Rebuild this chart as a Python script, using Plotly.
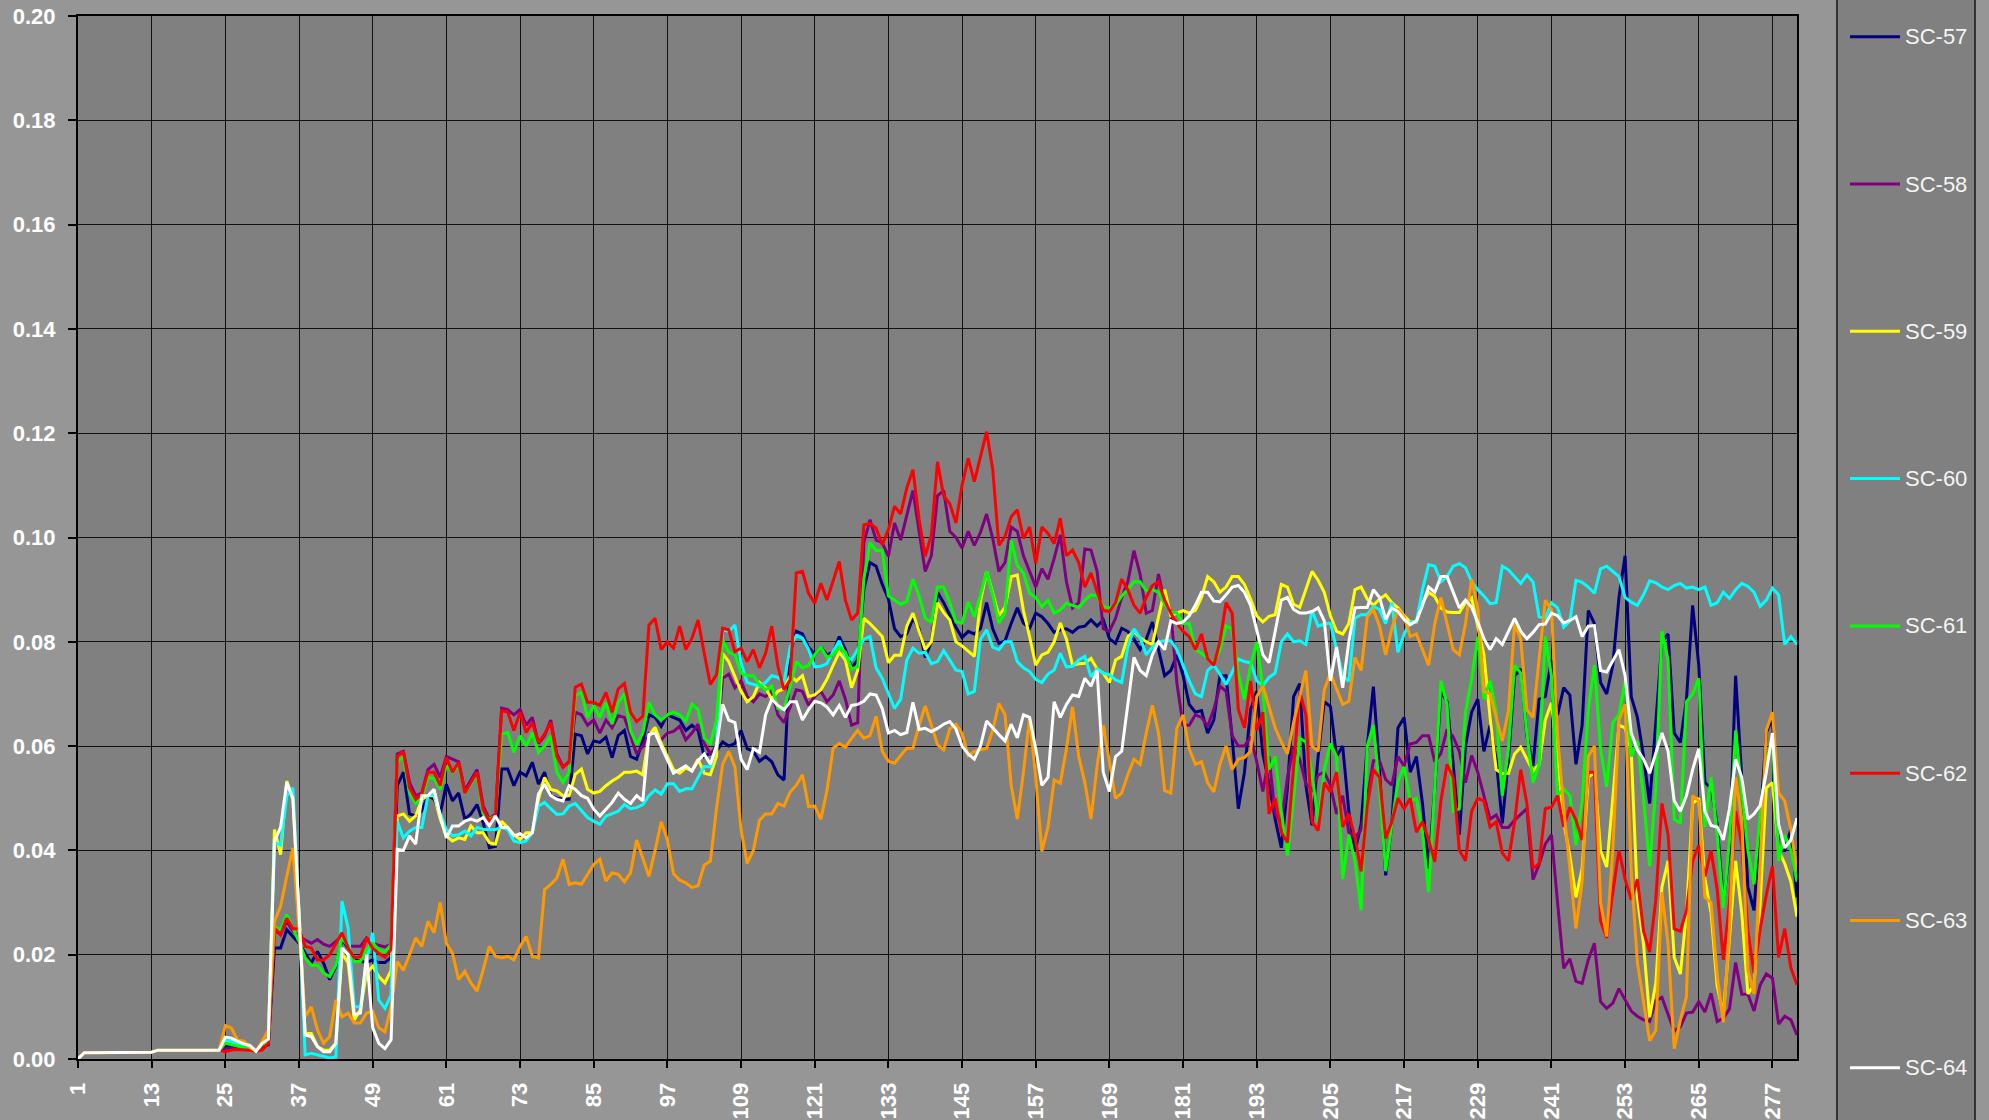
import plotly.graph_objects as go

# Sample index along the x axis (1 .. 281)
samples = list(range(1, 282))
tick_values = [1, 13, 25, 37, 49, 61, 73, 85, 97, 109, 121, 133, 145, 157, 169,
               181, 193, 205, 217, 229, 241, 253, 265, 277]
tick_labels = [str(v) for v in tick_values]
y_ticks = [0.00, 0.02, 0.04, 0.06, 0.08, 0.10, 0.12, 0.14, 0.16, 0.18, 0.20]

series_names = ["SC-57", "SC-58", "SC-59", "SC-60", "SC-61", "SC-62", "SC-63", "SC-64"]
series_colors = ["#000080", "#800080", "#FFFF00", "#00FFFF", "#00FF00", "#FF0000", "#FF9900", "#FFFFFF"]

sc57 = [
    0.0000, 0.0012, 0.0012, 0.0012, 0.0012, 0.0012, 0.0012, 0.0012, 0.0013, 0.0013, 0.0013, 0.0013, 0.0013, 0.0017, 0.0017, 0.0017, 0.0017, 0.0016, 0.0016, 0.0016, 0.0016, 0.0016, 0.0016, 0.0017,
    0.0024, 0.0024, 0.0022, 0.0021, 0.0019, 0.0015, 0.0024, 0.0027,
    0.0213, 0.0213, 0.0248, 0.0235, 0.0222, 0.0203, 0.0184, 0.0206, 0.0184, 0.0152, 0.0178, 0.0229, 0.0213, 0.0190, 0.0187, 0.0185,
    0.0190, 0.0185, 0.0185, 0.0195,
    0.0524, 0.0550, 0.0470, 0.0466, 0.0476, 0.0505, 0.0498, 0.0470, 0.0527, 0.0495, 0.0510, 0.0460, 0.0470, 0.0488, 0.0453, 0.0405, 0.0408, 0.0556, 0.0556, 0.0524, 0.0550, 0.0543, 0.0569, 0.0527, 0.0550, 0.0505, 0.0500, 0.0498, 0.0498, 0.0623, 0.0620, 0.0585, 0.0610, 0.0607, 0.0617, 0.0578, 0.0620, 0.0630, 0.0580,
    0.0575, 0.0610, 0.0660, 0.0655, 0.0638, 0.0660, 0.0655, 0.0650, 0.0630, 0.0640, 0.0630, 0.0580, 0.0587, 0.0590, 0.0608, 0.0600, 0.0605, 0.0630, 0.0595, 0.0590, 0.0571, 0.0580, 0.0570, 0.0545, 0.0535, 0.0780, 0.0820, 0.0815, 0.0790, 0.0775, 0.0790, 0.0775, 0.0780, 0.0810, 0.0785, 0.0750, 0.0765, 0.0900, 0.0952, 0.0945,
    0.0910, 0.0882, 0.0825, 0.0810, 0.0815, 0.0845, 0.0825, 0.0770, 0.0800, 0.0895, 0.0875, 0.0850, 0.0828, 0.0808, 0.0820, 0.0815, 0.0825, 0.0875, 0.0825, 0.0797, 0.0802, 0.0835, 0.0865, 0.0836, 0.0826, 0.0855, 0.0848, 0.0835, 0.0818, 0.0823, 0.0825, 0.0818, 0.0828, 0.0830, 0.0842, 0.0830, 0.0842, 0.0806, 0.0797, 0.0826, 0.0820,
    0.0805, 0.0785, 0.0805, 0.0838, 0.0785, 0.0735, 0.0745, 0.0775, 0.0735, 0.0680, 0.0665, 0.0668, 0.0625, 0.0650, 0.0735, 0.0735, 0.0615, 0.0480, 0.0550, 0.0670, 0.0705, 0.0585, 0.0528, 0.0460, 0.0405, 0.0520, 0.0695, 0.0720, 0.0525, 0.0448, 0.0580, 0.0685, 0.0676, 0.0580, 0.0600, 0.0475, 0.0398, 0.0450,
    0.0600, 0.0714, 0.0555, 0.0352, 0.0450, 0.0635, 0.0655, 0.0550, 0.0580, 0.0490, 0.0365, 0.0520, 0.0705, 0.0685, 0.0565, 0.0430, 0.0600, 0.0665, 0.0690, 0.0590, 0.0640, 0.0575, 0.0452, 0.0575, 0.0735, 0.0748, 0.0620, 0.0562, 0.0690, 0.0695, 0.0765, 0.0660, 0.0712, 0.0698, 0.0565, 0.0640, 0.0860,
    0.0835, 0.0722, 0.0700, 0.0755, 0.0885, 0.0965, 0.0695, 0.0655, 0.0580, 0.0490, 0.0640, 0.0800, 0.0815, 0.0625, 0.0607, 0.0690, 0.0870, 0.0755, 0.0530, 0.0520, 0.0450, 0.0300, 0.0400, 0.0735, 0.0540, 0.0330, 0.0285, 0.0450, 0.0625, 0.0655, 0.0400, 0.0400, 0.0440, 0.0310,
]

sc58 = [
    0.0000, 0.0012, 0.0012, 0.0012, 0.0012, 0.0012, 0.0012, 0.0012, 0.0013, 0.0013, 0.0013, 0.0013, 0.0013, 0.0017, 0.0017, 0.0017, 0.0017, 0.0016, 0.0016, 0.0016, 0.0016, 0.0016, 0.0016, 0.0017,
    0.0020, 0.0021, 0.0020, 0.0019, 0.0018, 0.0015, 0.0022, 0.0028,
    0.0245, 0.0240, 0.0264, 0.0245, 0.0235, 0.0229, 0.0222, 0.0229, 0.0220, 0.0216, 0.0226, 0.0235, 0.0216, 0.0216, 0.0216, 0.0232,
    0.0222, 0.0218, 0.0215, 0.0220,
    0.0585, 0.0590, 0.0530, 0.0505, 0.0510, 0.0555, 0.0565, 0.0540, 0.0580, 0.0575, 0.0570, 0.0515, 0.0535, 0.0555, 0.0485, 0.0460, 0.0470, 0.0673, 0.0670, 0.0660, 0.0670, 0.0640, 0.0655, 0.0605, 0.0620, 0.0650, 0.0585, 0.0560, 0.0570, 0.0665, 0.0660, 0.0640, 0.0650, 0.0625, 0.0650, 0.0635, 0.0658, 0.0655, 0.0620,
    0.0585, 0.0600, 0.0625, 0.0623, 0.0612, 0.0625, 0.0628, 0.0638, 0.0612, 0.0625, 0.0642, 0.0605, 0.0585, 0.0600, 0.0730, 0.0738, 0.0712, 0.0725, 0.0695, 0.0685, 0.0700, 0.0695, 0.0705, 0.0660, 0.0645, 0.0675, 0.0708, 0.0705, 0.0678, 0.0695, 0.0705, 0.0685, 0.0698, 0.0725, 0.0690, 0.0640, 0.0645, 0.0990, 0.1034, 0.0995,
    0.0990, 0.0964, 0.1028, 0.0995, 0.1045, 0.1090, 0.1012, 0.0935, 0.0965, 0.1080, 0.1090, 0.1012, 0.1000, 0.0980, 0.1012, 0.0985, 0.1010, 0.1045, 0.0998, 0.0935, 0.0952, 0.1020, 0.1012, 0.0965, 0.0935, 0.0905, 0.0940, 0.0920, 0.0960, 0.1005, 0.0915, 0.0865, 0.0875, 0.0978, 0.0976, 0.0935, 0.0825, 0.0820, 0.0845, 0.0885, 0.0915,
    0.0975, 0.0930, 0.0855, 0.0860, 0.0930, 0.0875, 0.0858, 0.0720, 0.0640, 0.0640, 0.0660, 0.0655, 0.0638, 0.0670, 0.0715, 0.0705, 0.0620, 0.0600, 0.0600, 0.0618, 0.0570, 0.0513, 0.0580, 0.0470, 0.0452, 0.0540, 0.0598, 0.0575, 0.0528, 0.0516, 0.0545, 0.0550, 0.0525, 0.0470, 0.0505, 0.0435, 0.0424, 0.0440,
    0.0500, 0.0572, 0.0572, 0.0536, 0.0525, 0.0580, 0.0562, 0.0604, 0.0607, 0.0620, 0.0620, 0.0570, 0.0586, 0.0632, 0.0618, 0.0590, 0.0530, 0.0582, 0.0550, 0.0505, 0.0460, 0.0468, 0.0444, 0.0444, 0.0458, 0.0469, 0.0480, 0.0344, 0.0373, 0.0412, 0.0430, 0.0300, 0.0174, 0.0192, 0.0149, 0.0145, 0.0190,
    0.0222, 0.0110, 0.0097, 0.0107, 0.0135, 0.0112, 0.0092, 0.0082, 0.0075, 0.0072, 0.0112, 0.0118, 0.0085, 0.0053, 0.0062, 0.0088, 0.0090, 0.0110, 0.0090, 0.0126, 0.0072, 0.0078, 0.0096, 0.0185, 0.0124, 0.0124, 0.0092, 0.0142, 0.0163, 0.0155, 0.0067, 0.0082, 0.0075, 0.0046,
]

sc59 = [
    0.0000, 0.0012, 0.0012, 0.0012, 0.0012, 0.0012, 0.0012, 0.0012, 0.0013, 0.0013, 0.0013, 0.0013, 0.0013, 0.0017, 0.0017, 0.0017, 0.0017, 0.0016, 0.0016, 0.0016, 0.0016, 0.0016, 0.0016, 0.0017,
    0.0036, 0.0033, 0.0030, 0.0026, 0.0020, 0.0015, 0.0030, 0.0036,
    0.0440, 0.0392, 0.0533, 0.0498, 0.0280, 0.0049, 0.0049, 0.0024, 0.0017, 0.0017, 0.0030, 0.0203, 0.0184, 0.0075, 0.0095, 0.0165,
    0.0178, 0.0158, 0.0146, 0.0170,
    0.0466, 0.0470, 0.0456, 0.0466, 0.0498, 0.0505, 0.0505, 0.0460, 0.0428, 0.0418, 0.0424, 0.0421, 0.0447, 0.0434, 0.0434, 0.0415, 0.0412, 0.0456, 0.0444, 0.0430, 0.0421, 0.0434, 0.0434, 0.0498, 0.0540, 0.0517, 0.0514, 0.0505, 0.0505, 0.0546, 0.0556, 0.0517, 0.0510, 0.0513, 0.0524, 0.0533, 0.0540, 0.0550, 0.0550,
    0.0552, 0.0545, 0.0620, 0.0636, 0.0605, 0.0580, 0.0555, 0.0548, 0.0558, 0.0553, 0.0575, 0.0548, 0.0545, 0.0580, 0.0778, 0.0762, 0.0735, 0.0705, 0.0685, 0.0695, 0.0722, 0.0712, 0.0690, 0.0705, 0.0710, 0.0735, 0.0725, 0.0735, 0.0695, 0.0698, 0.0708, 0.0728, 0.0755, 0.0780, 0.0765, 0.0712, 0.0745, 0.0845, 0.0835, 0.0823,
    0.0810, 0.0760, 0.0774, 0.0774, 0.0830, 0.0855, 0.0818, 0.0785, 0.0800, 0.0875, 0.0856, 0.0842, 0.0800, 0.0792, 0.0782, 0.0772, 0.0878, 0.0935, 0.0893, 0.0850, 0.0866, 0.0925, 0.0928, 0.0860, 0.0810, 0.0755, 0.0775, 0.0780, 0.0800, 0.0836, 0.0805, 0.0755, 0.0758, 0.0759, 0.0768, 0.0748, 0.0740, 0.0722, 0.0765, 0.0772, 0.0810,
    0.0820, 0.0808, 0.0800, 0.0795, 0.0850, 0.0900, 0.0850, 0.0855, 0.0860, 0.0855, 0.0860, 0.0885, 0.0925, 0.0915, 0.0895, 0.0905, 0.0925, 0.0925, 0.0910, 0.0882, 0.0850, 0.0838, 0.0849, 0.0852, 0.0910, 0.0905, 0.0872, 0.0866, 0.0900, 0.0935, 0.0918, 0.0895, 0.0850, 0.0820, 0.0815, 0.0835, 0.0900, 0.0905,
    0.0882, 0.0870, 0.0882, 0.0890, 0.0875, 0.0865, 0.0850, 0.0838, 0.0838, 0.0875, 0.0895, 0.0887, 0.0865, 0.0857, 0.0856, 0.0856, 0.0875, 0.0884, 0.0830, 0.0775, 0.0655, 0.0555, 0.0547, 0.0548, 0.0585, 0.0598, 0.0575, 0.0552, 0.0565, 0.0650, 0.0683, 0.0580, 0.0455, 0.0390, 0.0310, 0.0365, 0.0540,
    0.0550, 0.0400, 0.0368, 0.0500, 0.0640, 0.0635, 0.0590, 0.0310, 0.0220, 0.0080, 0.0145, 0.0330, 0.0380, 0.0195, 0.0163, 0.0280, 0.0490, 0.0500, 0.0345, 0.0280, 0.0140, 0.0085, 0.0230, 0.0380, 0.0280, 0.0125, 0.0142, 0.0300, 0.0520, 0.0530, 0.0400, 0.0375, 0.0340, 0.0273,
]

sc60 = [
    0.0000, 0.0012, 0.0012, 0.0012, 0.0012, 0.0012, 0.0012, 0.0012, 0.0013, 0.0013, 0.0013, 0.0013, 0.0013, 0.0017, 0.0017, 0.0017, 0.0017, 0.0016, 0.0016, 0.0016, 0.0016, 0.0016, 0.0016, 0.0017,
    0.0037, 0.0034, 0.0031, 0.0027, 0.0020, 0.0015, 0.0031, 0.0037,
    0.0415, 0.0410, 0.0504, 0.0520, 0.0280, 0.0008, 0.0011, 0.0008, 0.0004, 0.0002, 0.0004, 0.0303, 0.0251, 0.0100, 0.0100, 0.0190,
    0.0242, 0.0113, 0.0097, 0.0123,
    0.0456, 0.0424, 0.0437, 0.0444, 0.0444, 0.0505, 0.0508, 0.0470, 0.0440, 0.0428, 0.0430, 0.0437, 0.0428, 0.0444, 0.0440, 0.0440, 0.0440, 0.0444, 0.0440, 0.0418, 0.0415, 0.0418, 0.0434, 0.0485, 0.0492, 0.0480, 0.0469, 0.0470, 0.0485, 0.0490, 0.0476, 0.0463, 0.0456, 0.0450, 0.0466, 0.0470, 0.0475, 0.0488, 0.0480,
    0.0482, 0.0488, 0.0505, 0.0516, 0.0508, 0.0528, 0.0528, 0.0513, 0.0518, 0.0518, 0.0540, 0.0561, 0.0560, 0.0600, 0.0823, 0.0820, 0.0832, 0.0760, 0.0722, 0.0718, 0.0715, 0.0722, 0.0735, 0.0732, 0.0722, 0.0790, 0.0812, 0.0807, 0.0785, 0.0752, 0.0753, 0.0758, 0.0782, 0.0802, 0.0772, 0.0766, 0.0785, 0.0805, 0.0810, 0.0750,
    0.0730, 0.0700, 0.0672, 0.0690, 0.0765, 0.0788, 0.0778, 0.0780, 0.0758, 0.0762, 0.0783, 0.0765, 0.0746, 0.0743, 0.0700, 0.0705, 0.0805, 0.0823, 0.0790, 0.0785, 0.0800, 0.0800, 0.0762, 0.0750, 0.0743, 0.0728, 0.0722, 0.0738, 0.0746, 0.0778, 0.0752, 0.0753, 0.0765, 0.0772, 0.0733, 0.0748, 0.0740, 0.0737, 0.0727, 0.0722, 0.0790,
    0.0825, 0.0808, 0.0775, 0.0790, 0.0800, 0.0802, 0.0802, 0.0785, 0.0755, 0.0725, 0.0700, 0.0695, 0.0745, 0.0755, 0.0738, 0.0718, 0.0742, 0.0767, 0.0762, 0.0760, 0.0725, 0.0716, 0.0732, 0.0740, 0.0800, 0.0815, 0.0800, 0.0802, 0.0795, 0.0860, 0.0830, 0.0834, 0.0836, 0.0785, 0.0735, 0.0724, 0.0845, 0.0852,
    0.0852, 0.0868, 0.0862, 0.0835, 0.0875, 0.0780, 0.0815, 0.0838, 0.0838, 0.0900, 0.0948, 0.0945, 0.0915, 0.0925, 0.0945, 0.0950, 0.0942, 0.0915, 0.0900, 0.0888, 0.0873, 0.0875, 0.0945, 0.0938, 0.0925, 0.0912, 0.0928, 0.0915, 0.0848, 0.0845, 0.0875, 0.0865, 0.0828, 0.0840, 0.0918, 0.0914, 0.0905,
    0.0893, 0.0940, 0.0945, 0.0935, 0.0925, 0.0885, 0.0876, 0.0870, 0.0890, 0.0917, 0.0913, 0.0905, 0.0900, 0.0908, 0.0912, 0.0903, 0.0905, 0.0900, 0.0905, 0.0870, 0.0875, 0.0895, 0.0883, 0.0900, 0.0912, 0.0906, 0.0895, 0.0868, 0.0880, 0.0903, 0.0890, 0.0795, 0.0810, 0.0795,
]

sc61 = [
    0.0000, 0.0012, 0.0012, 0.0012, 0.0012, 0.0012, 0.0012, 0.0012, 0.0013, 0.0013, 0.0013, 0.0013, 0.0013, 0.0017, 0.0017, 0.0017, 0.0017, 0.0016, 0.0016, 0.0016, 0.0016, 0.0016, 0.0016, 0.0017,
    0.0030, 0.0028, 0.0025, 0.0022, 0.0019, 0.0015, 0.0028, 0.0033,
    0.0254, 0.0248, 0.0277, 0.0250, 0.0225, 0.0194, 0.0180, 0.0180, 0.0165, 0.0158, 0.0180, 0.0232, 0.0216, 0.0187, 0.0187, 0.0210,
    0.0222, 0.0210, 0.0205, 0.0220,
    0.0569, 0.0580, 0.0510, 0.0490, 0.0500, 0.0540, 0.0538, 0.0517, 0.0562, 0.0550, 0.0562, 0.0510, 0.0527, 0.0545, 0.0470, 0.0460, 0.0466, 0.0623, 0.0626, 0.0588, 0.0620, 0.0600, 0.0626, 0.0588, 0.0600, 0.0620, 0.0550, 0.0530, 0.0550, 0.0697, 0.0703, 0.0655, 0.0678, 0.0655, 0.0684, 0.0642, 0.0684, 0.0700, 0.0630,
    0.0603, 0.0625, 0.0684, 0.0660, 0.0650, 0.0660, 0.0665, 0.0660, 0.0648, 0.0680, 0.0670, 0.0615, 0.0605, 0.0650, 0.0803, 0.0780, 0.0775, 0.0740, 0.0735, 0.0735, 0.0718, 0.0708, 0.0715, 0.0672, 0.0670, 0.0715, 0.0762, 0.0750, 0.0755, 0.0775, 0.0790, 0.0770, 0.0775, 0.0790, 0.0780, 0.0748, 0.0752, 0.0920, 0.0990, 0.0975,
    0.0975, 0.0888, 0.0880, 0.0872, 0.0877, 0.0920, 0.0888, 0.0845, 0.0838, 0.0905, 0.0905, 0.0875, 0.0838, 0.0836, 0.0876, 0.0848, 0.0890, 0.0935, 0.0890, 0.0836, 0.0855, 0.0995, 0.0946, 0.0932, 0.0893, 0.0885, 0.0867, 0.0880, 0.0855, 0.0861, 0.0874, 0.0870, 0.0866, 0.0880, 0.0890, 0.0888, 0.0868, 0.0865, 0.0870, 0.0888, 0.0900,
    0.0915, 0.0915, 0.0898, 0.0900, 0.0895, 0.0872, 0.0857, 0.0855, 0.0835, 0.0835, 0.0785, 0.0778, 0.0768, 0.0760, 0.0785, 0.0830, 0.0825, 0.0738, 0.0690, 0.0755, 0.0800, 0.0710, 0.0555, 0.0580, 0.0475, 0.0390, 0.0500, 0.0615, 0.0608, 0.0548, 0.0455, 0.0555, 0.0605, 0.0580, 0.0345, 0.0430, 0.0380, 0.0285,
    0.0600, 0.0640, 0.0520, 0.0360, 0.0450, 0.0533, 0.0560, 0.0495, 0.0500, 0.0435, 0.0320, 0.0520, 0.0725, 0.0680, 0.0475, 0.0480, 0.0665, 0.0728, 0.0810, 0.0690, 0.0725, 0.0665, 0.0505, 0.0595, 0.0755, 0.0740, 0.0625, 0.0530, 0.0565, 0.0810, 0.0735, 0.0505, 0.0518, 0.0505, 0.0410, 0.0495, 0.0670,
    0.0755, 0.0595, 0.0522, 0.0645, 0.0660, 0.0725, 0.0580, 0.0610, 0.0500, 0.0370, 0.0520, 0.0820, 0.0765, 0.0460, 0.0452, 0.0685, 0.0700, 0.0730, 0.0445, 0.0540, 0.0430, 0.0290, 0.0420, 0.0630, 0.0515, 0.0400, 0.0335, 0.0470, 0.0570, 0.0615, 0.0380, 0.0430, 0.0400, 0.0340,
]

sc62 = [
    0.0000, 0.0012, 0.0012, 0.0012, 0.0012, 0.0012, 0.0012, 0.0012, 0.0013, 0.0013, 0.0013, 0.0013, 0.0013, 0.0017, 0.0017, 0.0017, 0.0017, 0.0016, 0.0016, 0.0016, 0.0016, 0.0016, 0.0016, 0.0017,
    0.0014, 0.0017, 0.0018, 0.0018, 0.0017, 0.0015, 0.0017, 0.0030,
    0.0251, 0.0238, 0.0270, 0.0250, 0.0250, 0.0216, 0.0213, 0.0190, 0.0190, 0.0200, 0.0222, 0.0242, 0.0213, 0.0194, 0.0196, 0.0232,
    0.0213, 0.0202, 0.0195, 0.0210,
    0.0580, 0.0590, 0.0520, 0.0498, 0.0508, 0.0550, 0.0550, 0.0524, 0.0578, 0.0550, 0.0569, 0.0510, 0.0530, 0.0550, 0.0479, 0.0456, 0.0466, 0.0668, 0.0665, 0.0630, 0.0665, 0.0626, 0.0645, 0.0607, 0.0623, 0.0645, 0.0580, 0.0559, 0.0569, 0.0713, 0.0719, 0.0684, 0.0684, 0.0678, 0.0703, 0.0665, 0.0710, 0.0720, 0.0665,
    0.0647, 0.0657, 0.0832, 0.0845, 0.0785, 0.0800, 0.0788, 0.0830, 0.0785, 0.0807, 0.0842, 0.0778, 0.0718, 0.0737, 0.0826, 0.0823, 0.0781, 0.0788, 0.0762, 0.0785, 0.0750, 0.0778, 0.0830, 0.0753, 0.0708, 0.0727, 0.0932, 0.0935, 0.0893, 0.0874, 0.0912, 0.0880, 0.0919, 0.0954, 0.0880, 0.0842, 0.0855, 0.1024, 0.1027, 0.1018,
    0.0986, 0.1015, 0.1060, 0.1045, 0.1095, 0.1130, 0.1035, 0.0964, 0.1005, 0.1145, 0.1080, 0.1065, 0.1028, 0.1100, 0.1152, 0.1107, 0.1155, 0.1203, 0.1130, 0.0985, 0.1002, 0.1040, 0.1053, 0.0998, 0.1020, 0.0950, 0.1020, 0.1008, 0.0988, 0.1037, 0.0965, 0.0976, 0.0952, 0.0905, 0.0932, 0.0895, 0.0860, 0.0858, 0.0875, 0.0920, 0.0900,
    0.0870, 0.0855, 0.0885, 0.0908, 0.0915, 0.0880, 0.0855, 0.0835, 0.0820, 0.0810, 0.0785, 0.0815, 0.0768, 0.0755, 0.0800, 0.0875, 0.0855, 0.0670, 0.0635, 0.0725, 0.0630, 0.0665, 0.0470, 0.0500, 0.0435, 0.0415, 0.0560, 0.0705, 0.0660, 0.0455, 0.0438, 0.0530, 0.0512, 0.0550, 0.0445, 0.0470, 0.0425, 0.0360,
    0.0485, 0.0555, 0.0540, 0.0423, 0.0455, 0.0500, 0.0480, 0.0500, 0.0435, 0.0455, 0.0420, 0.0378, 0.0495, 0.0565, 0.0540, 0.0400, 0.0380, 0.0475, 0.0500, 0.0495, 0.0445, 0.0455, 0.0395, 0.0380, 0.0455, 0.0555, 0.0490, 0.0365, 0.0375, 0.0480, 0.0483, 0.0505, 0.0445, 0.0483, 0.0458, 0.0420, 0.0550,
    0.0550, 0.0265, 0.0232, 0.0320, 0.0400, 0.0345, 0.0305, 0.0345, 0.0245, 0.0205, 0.0305, 0.0490, 0.0430, 0.0250, 0.0245, 0.0285, 0.0380, 0.0410, 0.0350, 0.0400, 0.0325, 0.0190, 0.0300, 0.0475, 0.0410, 0.0245, 0.0165, 0.0250, 0.0315, 0.0370, 0.0195, 0.0250, 0.0175, 0.0142,
]

sc63 = [
    0.0000, 0.0012, 0.0012, 0.0012, 0.0012, 0.0012, 0.0012, 0.0012, 0.0013, 0.0013, 0.0013, 0.0013, 0.0013, 0.0017, 0.0017, 0.0017, 0.0017, 0.0016, 0.0016, 0.0016, 0.0016, 0.0016, 0.0016, 0.0017,
    0.0064, 0.0059, 0.0036, 0.0034, 0.0022, 0.0015, 0.0034, 0.0055,
    0.0264, 0.0293, 0.0350, 0.0405, 0.0250, 0.0081, 0.0100, 0.0056, 0.0030, 0.0043, 0.0113, 0.0081, 0.0088, 0.0069, 0.0069, 0.0088,
    0.0091, 0.0060, 0.0052, 0.0100,
    0.0187, 0.0170, 0.0200, 0.0232, 0.0216, 0.0264, 0.0242, 0.0300, 0.0222, 0.0203, 0.0152, 0.0168, 0.0146, 0.0130, 0.0171, 0.0216, 0.0197, 0.0194, 0.0197, 0.0190, 0.0216, 0.0235, 0.0197, 0.0194, 0.0325, 0.0335, 0.0347, 0.0383, 0.0335, 0.0338, 0.0335, 0.0354, 0.0373, 0.0383, 0.0341, 0.0357, 0.0354, 0.0340, 0.0357,
    0.0420, 0.0385, 0.0350, 0.0400, 0.0455, 0.0420, 0.0355, 0.0343, 0.0338, 0.0329, 0.0332, 0.0372, 0.0379, 0.0480, 0.0565, 0.0590, 0.0560, 0.0440, 0.0375, 0.0400, 0.0458, 0.0470, 0.0470, 0.0490, 0.0485, 0.0512, 0.0525, 0.0545, 0.0484, 0.0485, 0.0460, 0.0515, 0.0596, 0.0605, 0.0598, 0.0615, 0.0630, 0.0615, 0.0620, 0.0657,
    0.0590, 0.0571, 0.0567, 0.0582, 0.0596, 0.0596, 0.0640, 0.0677, 0.0640, 0.0603, 0.0593, 0.0633, 0.0642, 0.0625, 0.0582, 0.0590, 0.0593, 0.0596, 0.0630, 0.0682, 0.0660, 0.0525, 0.0460, 0.0550, 0.0655, 0.0540, 0.0398, 0.0445, 0.0535, 0.0529, 0.0595, 0.0675, 0.0580, 0.0530, 0.0460, 0.0562, 0.0640, 0.0567, 0.0500, 0.0510, 0.0545,
    0.0575, 0.0565, 0.0625, 0.0678, 0.0625, 0.0515, 0.0510, 0.0635, 0.0660, 0.0595, 0.0565, 0.0570, 0.0530, 0.0512, 0.0565, 0.0600, 0.0555, 0.0575, 0.0578, 0.0590, 0.0695, 0.0715, 0.0675, 0.0635, 0.0608, 0.0585, 0.0645, 0.0695, 0.0745, 0.0600, 0.0590, 0.0708, 0.0740, 0.0710, 0.0680, 0.0686, 0.0770, 0.0745,
    0.0848, 0.0862, 0.0830, 0.0775, 0.0825, 0.0863, 0.0848, 0.0810, 0.0815, 0.0785, 0.0755, 0.0835, 0.0885, 0.0835, 0.0785, 0.0775, 0.0835, 0.0920, 0.0865, 0.0705, 0.0700, 0.0655, 0.0610, 0.0668, 0.0835, 0.0805, 0.0670, 0.0655, 0.0768, 0.0880, 0.0862, 0.0620, 0.0480, 0.0365, 0.0250, 0.0340, 0.0580,
    0.0600, 0.0300, 0.0235, 0.0400, 0.0650, 0.0680, 0.0360, 0.0185, 0.0110, 0.0035, 0.0055, 0.0320, 0.0220, 0.0020, 0.0075, 0.0120, 0.0505, 0.0495, 0.0310, 0.0300, 0.0160, 0.0070, 0.0250, 0.0540, 0.0460, 0.0170, 0.0125, 0.0380, 0.0630, 0.0665, 0.0510, 0.0495, 0.0440, 0.0360,
]

sc64 = [
    0.0000, 0.0012, 0.0012, 0.0012, 0.0012, 0.0012, 0.0012, 0.0012, 0.0013, 0.0013, 0.0013, 0.0013, 0.0013, 0.0017, 0.0017, 0.0017, 0.0017, 0.0016, 0.0016, 0.0016, 0.0016, 0.0016, 0.0016, 0.0017,
    0.0042, 0.0040, 0.0034, 0.0029, 0.0026, 0.0015, 0.0030, 0.0038,
    0.0418, 0.0444, 0.0530, 0.0500, 0.0280, 0.0046, 0.0043, 0.0024, 0.0014, 0.0014, 0.0030, 0.0213, 0.0200, 0.0085, 0.0088, 0.0200,
    0.0060, 0.0030, 0.0020, 0.0037,
    0.0402, 0.0400, 0.0428, 0.0412, 0.0505, 0.0505, 0.0517, 0.0466, 0.0424, 0.0447, 0.0447, 0.0456, 0.0460, 0.0456, 0.0463, 0.0447, 0.0466, 0.0444, 0.0444, 0.0428, 0.0432, 0.0424, 0.0434, 0.0508, 0.0527, 0.0505, 0.0498, 0.0495, 0.0524, 0.0517, 0.0505, 0.0500, 0.0479, 0.0466, 0.0479, 0.0492, 0.0510, 0.0498, 0.0490,
    0.0505, 0.0495, 0.0622, 0.0625, 0.0600, 0.0574, 0.0548, 0.0555, 0.0562, 0.0552, 0.0572, 0.0585, 0.0565, 0.0600, 0.0680, 0.0650, 0.0645, 0.0575, 0.0555, 0.0595, 0.0588, 0.0660, 0.0690, 0.0678, 0.0670, 0.0685, 0.0685, 0.0650, 0.0670, 0.0686, 0.0683, 0.0675, 0.0660, 0.0678, 0.0655, 0.0678, 0.0680, 0.0686, 0.0700, 0.0698,
    0.0672, 0.0625, 0.0630, 0.0622, 0.0626, 0.0684, 0.0632, 0.0634, 0.0628, 0.0634, 0.0642, 0.0647, 0.0633, 0.0600, 0.0585, 0.0575, 0.0600, 0.0648, 0.0634, 0.0622, 0.0610, 0.0642, 0.0616, 0.0660, 0.0655, 0.0595, 0.0525, 0.0540, 0.0685, 0.0655, 0.0680, 0.0698, 0.0695, 0.0730, 0.0715, 0.0745, 0.0550, 0.0513, 0.0580, 0.0590, 0.0680,
    0.0770, 0.0745, 0.0735, 0.0775, 0.0800, 0.0785, 0.0840, 0.0835, 0.0838, 0.0850, 0.0870, 0.0895, 0.0895, 0.0878, 0.0877, 0.0890, 0.0905, 0.0908, 0.0895, 0.0870, 0.0825, 0.0775, 0.0760, 0.0818, 0.0880, 0.0885, 0.0862, 0.0855, 0.0855, 0.0858, 0.0865, 0.0840, 0.0725, 0.0790, 0.0712, 0.0800, 0.0865, 0.0866,
    0.0866, 0.0900, 0.0885, 0.0843, 0.0865, 0.0858, 0.0843, 0.0833, 0.0840, 0.0870, 0.0905, 0.0895, 0.0925, 0.0925, 0.0895, 0.0865, 0.0880, 0.0866, 0.0838, 0.0806, 0.0785, 0.0806, 0.0795, 0.0820, 0.0845, 0.0820, 0.0806, 0.0818, 0.0833, 0.0834, 0.0855, 0.0850, 0.0836, 0.0841, 0.0848, 0.0810, 0.0830,
    0.0831, 0.0745, 0.0742, 0.0765, 0.0785, 0.0735, 0.0625, 0.0593, 0.0575, 0.0548, 0.0585, 0.0625, 0.0590, 0.0495, 0.0475, 0.0505, 0.0555, 0.0595, 0.0475, 0.0448, 0.0445, 0.0420, 0.0480, 0.0575, 0.0540, 0.0460, 0.0470, 0.0486, 0.0550, 0.0625, 0.0450, 0.0405, 0.0420, 0.0462,
]

all_series = [sc57, sc58, sc59, sc60, sc61, sc62, sc63, sc64]

# ---- page geometry (pixels) ----
W, H = 1989, 1120
M_L, M_R, M_T, M_B = 78, 192, 16, 61
PLOT_W = W - M_L - M_R
PLOT_H = H - M_T - M_B


def px_x(x):
    return (x - M_L) / PLOT_W


def px_y(y):
    return (H - M_B - y) / PLOT_H


FONT = "Liberation Sans, Arial, sans-serif"

fig = go.Figure()
for name, color, values in zip(series_names, series_colors, all_series):
    fig.add_trace(go.Scatter(
        x=samples, y=values, name=name, mode="lines",
        line=dict(color=color, width=3), showlegend=False,
    ))

# Legend panel on the right, drawn as shapes and text
shapes = [dict(
    type="rect", xref="paper", yref="paper",
    x0=px_x(1837), x1=px_x(1975), y0=px_y(H + 10), y1=px_y(-10),
    fillcolor="#808080", line=dict(color="#333333", width=2), layer="below",
)]
annotations = []
for i, (name, color) in enumerate(zip(series_names, series_colors)):
    yc = 36.7 + 147.3 * i
    shapes.append(dict(
        type="line", xref="paper", yref="paper",
        x0=px_x(1850), x1=px_x(1900), y0=px_y(yc), y1=px_y(yc),
        line=dict(color=color, width=3),
    ))
    annotations.append(dict(
        xref="paper", yref="paper", x=px_x(1903), y=px_y(yc),
        text=name, showarrow=False, xanchor="left", yanchor="middle",
        font=dict(family=FONT, size=22, color="#F4F4F4"),
    ))

fig.update_layout(
    width=W, height=H,
    margin=dict(l=M_L, r=M_R, t=M_T, b=M_B, pad=0, autoexpand=False),
    paper_bgcolor="#969696",
    plot_bgcolor="#808080",
    shapes=shapes,
    annotations=annotations,
    xaxis=dict(
        range=[1, 281], tickmode="array", tickvals=tick_values, ticktext=tick_labels,
        tickangle=-90, ticks="outside", ticklen=7, tickwidth=1.5, tickcolor="#000000",
        showgrid=True, gridcolor="#111111", gridwidth=1,
        showline=True, linecolor="#000000", linewidth=2, mirror=True, zeroline=False,
        tickfont=dict(family=FONT, size=22, color="#FFFFFF", weight="bold"),
        ticklabelstandoff=6, automargin=False,
    ),
    yaxis=dict(
        range=[0, 0.2], tickmode="array", tickvals=y_ticks,
        ticktext=[f"{v:.2f}" for v in y_ticks],
        ticks="outside", ticklen=8, tickwidth=1.5, tickcolor="#000000",
        showgrid=True, gridcolor="#111111", gridwidth=1,
        showline=True, linecolor="#000000", linewidth=2, mirror=True, zeroline=False,
        tickfont=dict(family=FONT, size=22, color="#FFFFFF", weight="bold"),
        ticklabelstandoff=8, automargin=False,
    ),
)

fig.write_html("out.html")
